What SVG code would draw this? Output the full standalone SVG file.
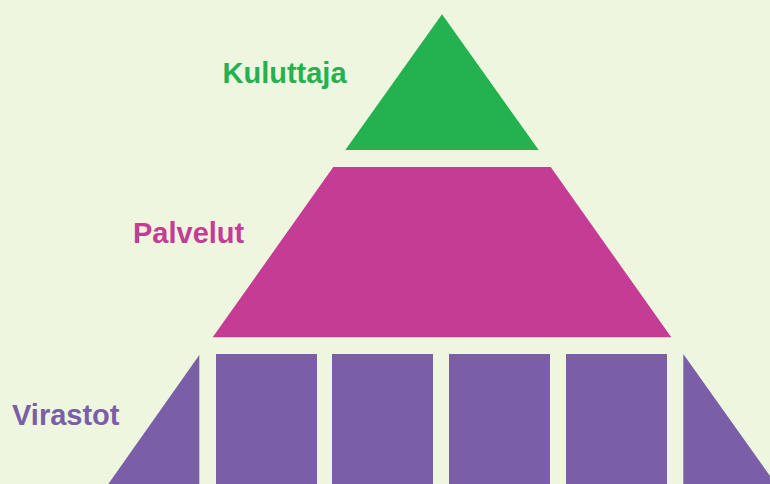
<svg xmlns="http://www.w3.org/2000/svg" width="770" height="484" viewBox="0 0 770 484">
<style>
.lbl{font-family:"Liberation Sans",Arial,sans-serif;font-weight:bold;font-size:29px}
.g{fill:#23B24F}
.m{fill:#C43C94}
.p{fill:#7A5FA8}
</style>
<rect x="0" y="0" width="770" height="484" fill="#EEF6DF"/>
<g id="kuluttaja">
<polygon class="g" points="442,14.3 538.7,150 345.3,150"/>
<text class="lbl g" x="222.5" y="82.7">Kuluttaja</text>
</g>
<g id="palvelut">
<polygon class="m" points="333.3,167 550.7,167 671.3,337.3 212.7,337.3"/>
<text class="lbl m" x="133" y="242.7">Palvelut</text>
</g>
<g id="virastot">
<polygon class="p" points="199.3,355 199.3,484 108.3,484"/>
<rect class="p" x="216" y="354" width="101" height="130"/>
<rect class="p" x="332" y="354" width="101" height="130"/>
<rect class="p" x="449" y="354" width="101" height="130"/>
<rect class="p" x="566" y="354" width="101" height="130"/>
<polygon class="p" points="683.3,354 775.7,484 683.3,484"/>
<text class="lbl p" x="12" y="425">Virastot</text>
</g>
<g id="connectors"/>
</svg>
